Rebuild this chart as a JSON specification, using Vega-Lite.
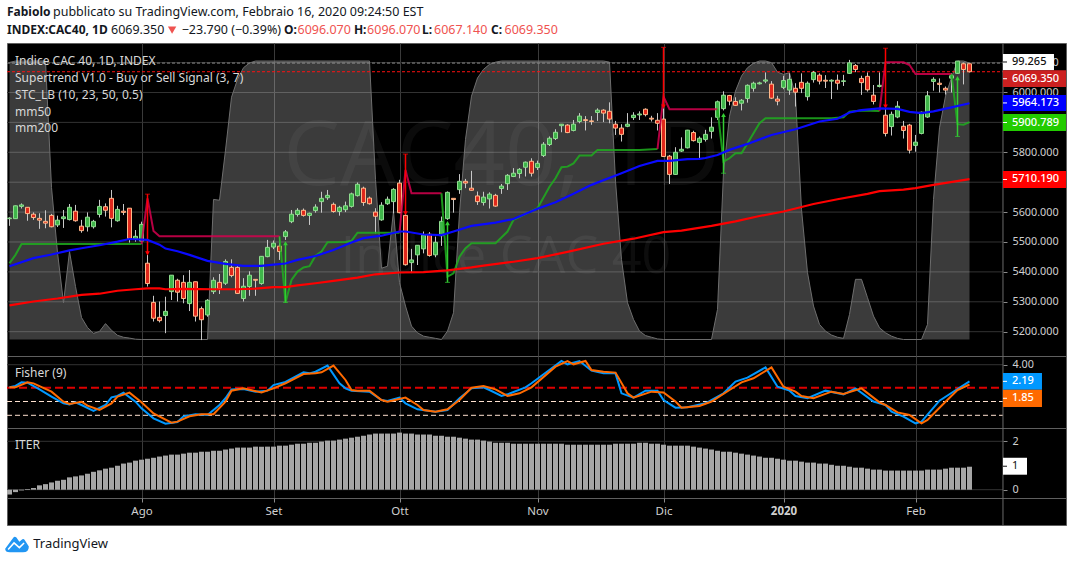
{
"$schema":"https://vega.github.io/schema/vega-lite/v6.json",
"background":"#ffffff",
"padding":{"left":4,"right":7,"top":0,"bottom":0},
"autosize":{"type":"pad"},
"spacing":0,
"bounds":"flush",
"resolve":{"scale":{"fill":"independent","color":"independent","stroke":"independent","shape":"independent"}},
"config":{"view":{"stroke":null},"text":{"font":"Noto Sans"},"axis":{"labelFont":"Noto Sans"}},
"datasets":{
"bars":[
{"i":0,"o":5578,"h":5583,"l":5554,"c":5580,"d":"u","it":-0.2},
{"i":1,"o":5578,"h":5622,"l":5578,"c":5621,"d":"u","it":-0.1},
{"i":2,"o":5619,"h":5629,"l":5612,"c":5624,"d":"u","it":-0.03},
{"i":3,"o":5616,"h":5616,"l":5571,"c":5595,"d":"d","it":0.03},
{"i":4,"o":5593,"h":5599,"l":5574,"c":5582,"d":"d","it":0.07},
{"i":5,"o":5579,"h":5596,"l":5544,"c":5573,"d":"d","it":0.18},
{"i":6,"o":5569,"h":5606,"l":5546,"c":5563,"d":"d","it":0.23},
{"i":7,"o":5589,"h":5594,"l":5549,"c":5551,"d":"d","it":0.3},
{"i":8,"o":5557,"h":5588,"l":5550,"c":5573,"d":"u","it":0.37},
{"i":9,"o":5578,"h":5607,"l":5547,"c":5584,"d":"u","it":0.41},
{"i":10,"o":5575,"h":5627,"l":5572,"c":5616,"d":"u","it":0.51},
{"i":11,"o":5603,"h":5624,"l":5568,"c":5571,"d":"d","it":0.55},
{"i":12,"o":5553,"h":5574,"l":5531,"c":5538,"d":"d","it":0.59},
{"i":13,"o":5551,"h":5599,"l":5535,"c":5583,"d":"u","it":0.66},
{"i":14,"o":5551,"h":5574,"l":5545,"c":5569,"d":"u","it":0.74},
{"i":15,"o":5592,"h":5641,"l":5582,"c":5619,"d":"u","it":0.8},
{"i":16,"o":5618,"h":5629,"l":5585,"c":5606,"d":"d","it":0.87},
{"i":17,"o":5646,"h":5674,"l":5549,"c":5579,"d":"d","it":0.91},
{"i":18,"o":5571,"h":5621,"l":5568,"c":5609,"d":"u","it":0.99},
{"i":19,"o":5603,"h":5627,"l":5590,"c":5599,"d":"d","it":1.08},
{"i":20,"o":5613,"h":5613,"l":5498,"c":5512,"d":"d","it":1.12},
{"i":21,"o":5511,"h":5540,"l":5501,"c":5519,"d":"u","it":1.2},
{"i":22,"o":5503,"h":5568,"l":5500,"c":5559,"d":"u","it":1.24},
{"i":23,"o":5429,"h":5457,"l":5351,"c":5361,"d":"d","it":1.28},
{"i":24,"o":5298,"h":5320,"l":5234,"c":5245,"d":"d","it":1.32},
{"i":25,"o":5248,"h":5301,"l":5231,"c":5237,"d":"d","it":1.37},
{"i":26,"o":5254,"h":5317,"l":5195,"c":5268,"d":"u","it":1.41},
{"i":27,"o":5334,"h":5389,"l":5306,"c":5389,"d":"u","it":1.45},
{"i":28,"o":5372,"h":5377,"l":5301,"c":5332,"d":"d","it":1.45},
{"i":29,"o":5365,"h":5389,"l":5295,"c":5311,"d":"d","it":1.49},
{"i":30,"o":5294,"h":5406,"l":5269,"c":5365,"d":"u","it":1.53},
{"i":31,"o":5367,"h":5367,"l":5234,"c":5252,"d":"d","it":1.53},
{"i":32,"o":5277,"h":5284,"l":5172,"c":5240,"d":"d","it":1.57},
{"i":33,"o":5256,"h":5309,"l":5250,"c":5305,"d":"u","it":1.57},
{"i":34,"o":5334,"h":5382,"l":5326,"c":5372,"d":"u","it":1.61},
{"i":35,"o":5365,"h":5393,"l":5326,"c":5344,"d":"d","it":1.61},
{"i":36,"o":5362,"h":5442,"l":5356,"c":5435,"d":"u","it":1.66},
{"i":37,"o":5415,"h":5442,"l":5382,"c":5388,"d":"d","it":1.7},
{"i":38,"o":5415,"h":5423,"l":5326,"c":5328,"d":"d","it":1.74},
{"i":39,"o":5311,"h":5379,"l":5301,"c":5352,"d":"u","it":1.74},
{"i":40,"o":5351,"h":5402,"l":5320,"c":5389,"d":"u","it":1.74},
{"i":41,"o":5375,"h":5375,"l":5320,"c":5372,"d":"d","it":1.78},
{"i":42,"o":5361,"h":5453,"l":5357,"c":5452,"d":"u","it":1.78},
{"i":43,"o":5451,"h":5507,"l":5449,"c":5482,"d":"u","it":1.78},
{"i":44,"o":5483,"h":5505,"l":5476,"c":5496,"d":"u","it":1.78},
{"i":45,"o":5486,"h":5518,"l":5440,"c":5468,"d":"d","it":1.82},
{"i":46,"o":5518,"h":5540,"l":5507,"c":5534,"d":"u","it":1.82},
{"i":47,"o":5568,"h":5607,"l":5563,"c":5593,"d":"u","it":1.86},
{"i":48,"o":5592,"h":5613,"l":5585,"c":5606,"d":"u","it":1.9},
{"i":49,"o":5606,"h":5612,"l":5585,"c":5589,"d":"d","it":1.9},
{"i":50,"o":5589,"h":5598,"l":5557,"c":5596,"d":"u","it":1.94},
{"i":51,"o":5605,"h":5626,"l":5598,"c":5617,"d":"u","it":1.94},
{"i":52,"o":5635,"h":5668,"l":5598,"c":5646,"d":"u","it":1.99},
{"i":53,"o":5648,"h":5674,"l":5641,"c":5656,"d":"u","it":2.03},
{"i":54,"o":5626,"h":5632,"l":5598,"c":5602,"d":"d","it":2.03},
{"i":55,"o":5602,"h":5621,"l":5588,"c":5616,"d":"u","it":2.07},
{"i":56,"o":5608,"h":5635,"l":5600,"c":5621,"d":"u","it":2.11},
{"i":57,"o":5619,"h":5665,"l":5615,"c":5661,"d":"u","it":2.15},
{"i":58,"o":5655,"h":5699,"l":5652,"c":5693,"d":"u","it":2.19},
{"i":59,"o":5680,"h":5685,"l":5621,"c":5632,"d":"d","it":2.23},
{"i":60,"o":5647,"h":5652,"l":5625,"c":5628,"d":"d","it":2.28},
{"i":61,"o":5600,"h":5613,"l":5529,"c":5586,"d":"d","it":2.32},
{"i":62,"o":5574,"h":5633,"l":5571,"c":5623,"d":"u","it":2.32},
{"i":63,"o":5628,"h":5652,"l":5624,"c":5643,"d":"u","it":2.32},
{"i":64,"o":5635,"h":5680,"l":5596,"c":5676,"d":"u","it":2.32},
{"i":65,"o":5697,"h":5708,"l":5596,"c":5598,"d":"d","it":2.36},
{"i":66,"o":5589,"h":5607,"l":5421,"c":5424,"d":"d","it":2.32},
{"i":67,"o":5431,"h":5477,"l":5396,"c":5440,"d":"u","it":2.32},
{"i":68,"o":5457,"h":5489,"l":5423,"c":5489,"d":"u","it":2.28},
{"i":69,"o":5477,"h":5535,"l":5462,"c":5523,"d":"u","it":2.28},
{"i":70,"o":5526,"h":5533,"l":5451,"c":5455,"d":"d","it":2.28},
{"i":71,"o":5457,"h":5518,"l":5449,"c":5499,"d":"u","it":2.23},
{"i":72,"o":5521,"h":5585,"l":5487,"c":5569,"d":"u","it":2.23},
{"i":73,"o":5578,"h":5669,"l":5574,"c":5666,"d":"u","it":2.19},
{"i":74,"o":5646,"h":5646,"l":5598,"c":5642,"d":"d","it":2.19},
{"i":75,"o":5675,"h":5727,"l":5661,"c":5703,"d":"u","it":2.15},
{"i":76,"o":5703,"h":5711,"l":5680,"c":5697,"d":"d","it":2.11},
{"i":77,"o":5680,"h":5738,"l":5672,"c":5673,"d":"d","it":2.07},
{"i":78,"o":5654,"h":5669,"l":5624,"c":5635,"d":"d","it":2.07},
{"i":79,"o":5632,"h":5668,"l":5622,"c":5650,"d":"u","it":2.03},
{"i":80,"o":5644,"h":5666,"l":5612,"c":5660,"d":"u","it":1.99},
{"i":81,"o":5656,"h":5661,"l":5618,"c":5620,"d":"d","it":1.94},
{"i":82,"o":5679,"h":5694,"l":5661,"c":5687,"d":"u","it":1.94},
{"i":83,"o":5695,"h":5727,"l":5674,"c":5723,"d":"u","it":1.94},
{"i":84,"o":5719,"h":5747,"l":5717,"c":5730,"d":"u","it":1.9},
{"i":85,"o":5729,"h":5747,"l":5713,"c":5743,"d":"u","it":1.9},
{"i":86,"o":5750,"h":5769,"l":5719,"c":5767,"d":"u","it":1.9},
{"i":87,"o":5770,"h":5780,"l":5719,"c":5730,"d":"d","it":1.9},
{"i":88,"o":5749,"h":5772,"l":5741,"c":5763,"d":"u","it":1.9},
{"i":89,"o":5789,"h":5834,"l":5784,"c":5827,"d":"u","it":1.9},
{"i":90,"o":5826,"h":5853,"l":5821,"c":5847,"d":"u","it":1.9},
{"i":91,"o":5846,"h":5877,"l":5841,"c":5867,"d":"u","it":1.9},
{"i":92,"o":5889,"h":5894,"l":5867,"c":5894,"d":"u","it":1.9},
{"i":93,"o":5891,"h":5894,"l":5864,"c":5866,"d":"d","it":1.86},
{"i":94,"o":5873,"h":5908,"l":5870,"c":5894,"d":"u","it":1.86},
{"i":95,"o":5903,"h":5931,"l":5897,"c":5921,"d":"u","it":1.86},
{"i":96,"o":5909,"h":5921,"l":5873,"c":5906,"d":"d","it":1.86},
{"i":97,"o":5905,"h":5921,"l":5892,"c":5903,"d":"d","it":1.86},
{"i":98,"o":5933,"h":5947,"l":5905,"c":5941,"d":"u","it":1.86},
{"i":99,"o":5941,"h":5944,"l":5901,"c":5931,"d":"d","it":1.86},
{"i":100,"o":5937,"h":5967,"l":5897,"c":5911,"d":"d","it":1.86},
{"i":101,"o":5894,"h":5905,"l":5858,"c":5881,"d":"d","it":1.9},
{"i":102,"o":5881,"h":5894,"l":5836,"c":5860,"d":"d","it":1.9},
{"i":103,"o":5887,"h":5931,"l":5884,"c":5894,"d":"u","it":1.9},
{"i":104,"o":5916,"h":5934,"l":5908,"c":5924,"d":"u","it":1.9},
{"i":105,"o":5925,"h":5937,"l":5908,"c":5928,"d":"u","it":1.94},
{"i":106,"o":5944,"h":5947,"l":5920,"c":5926,"d":"d","it":1.94},
{"i":107,"o":5914,"h":5922,"l":5903,"c":5911,"d":"d","it":1.9},
{"i":108,"o":5907,"h":5931,"l":5873,"c":5897,"d":"d","it":1.9},
{"i":109,"o":5911,"h":5947,"l":5784,"c":5786,"d":"d","it":1.86},
{"i":110,"o":5787,"h":5791,"l":5694,"c":5726,"d":"d","it":1.82},
{"i":111,"o":5726,"h":5817,"l":5724,"c":5800,"d":"u","it":1.82},
{"i":112,"o":5804,"h":5850,"l":5801,"c":5810,"d":"u","it":1.82},
{"i":113,"o":5815,"h":5875,"l":5813,"c":5874,"d":"u","it":1.82},
{"i":114,"o":5866,"h":5872,"l":5836,"c":5839,"d":"d","it":1.78},
{"i":115,"o":5833,"h":5853,"l":5775,"c":5847,"d":"u","it":1.74},
{"i":116,"o":5843,"h":5875,"l":5836,"c":5860,"d":"u","it":1.7},
{"i":117,"o":5870,"h":5917,"l":5846,"c":5884,"d":"u","it":1.66},
{"i":118,"o":5917,"h":5973,"l":5908,"c":5969,"d":"u","it":1.61},
{"i":119,"o":5946,"h":6004,"l":5940,"c":5991,"d":"u","it":1.57},
{"i":120,"o":5990,"h":5992,"l":5957,"c":5971,"d":"d","it":1.57},
{"i":121,"o":5970,"h":5984,"l":5955,"c":5957,"d":"d","it":1.53},
{"i":122,"o":5964,"h":5978,"l":5940,"c":5974,"d":"u","it":1.49},
{"i":123,"o":5980,"h":6027,"l":5966,"c":6024,"d":"u","it":1.45},
{"i":124,"o":6014,"h":6036,"l":6003,"c":6031,"d":"u","it":1.41},
{"i":125,"o":6029,"h":6036,"l":6027,"c":6032,"d":"u","it":1.37},
{"i":126,"o":6038,"h":6067,"l":6031,"c":6042,"d":"u","it":1.32},
{"i":127,"o":6028,"h":6038,"l":5978,"c":5981,"d":"d","it":1.32},
{"i":128,"o":5978,"h":5989,"l":5957,"c":5971,"d":"d","it":1.28},
{"i":129,"o":6017,"h":6056,"l":6011,"c":6040,"d":"u","it":1.24},
{"i":130,"o":6008,"h":6064,"l":5992,"c":6044,"d":"u","it":1.2},
{"i":131,"o":6014,"h":6031,"l":5953,"c":6001,"d":"d","it":1.2},
{"i":132,"o":6034,"h":6064,"l":5998,"c":6014,"d":"d","it":1.16},
{"i":133,"o":5986,"h":6037,"l":5973,"c":6031,"d":"u","it":1.12},
{"i":134,"o":6043,"h":6072,"l":6033,"c":6067,"d":"u","it":1.12},
{"i":135,"o":6058,"h":6064,"l":6027,"c":6038,"d":"d","it":1.08},
{"i":136,"o":6041,"h":6058,"l":6015,"c":6038,"d":"d","it":1.08},
{"i":137,"o":6038,"h":6044,"l":5978,"c":6041,"d":"u","it":1.03},
{"i":138,"o":6041,"h":6060,"l":6009,"c":6031,"d":"d","it":0.99},
{"i":139,"o":6037,"h":6059,"l":6022,"c":6039,"d":"u","it":0.99},
{"i":140,"o":6064,"h":6109,"l":6062,"c":6099,"d":"u","it":0.95},
{"i":141,"o":6090,"h":6095,"l":6068,"c":6077,"d":"d","it":0.91},
{"i":142,"o":6047,"h":6056,"l":5992,"c":6033,"d":"d","it":0.91},
{"i":143,"o":6054,"h":6067,"l":6003,"c":6009,"d":"d","it":0.87},
{"i":144,"o":5991,"h":6025,"l":5960,"c":5970,"d":"d","it":0.83},
{"i":145,"o":6020,"h":6067,"l":6017,"c":6024,"d":"u","it":0.83},
{"i":146,"o":5924,"h":5947,"l":5853,"c":5863,"d":"d","it":0.79},
{"i":147,"o":5886,"h":5936,"l":5856,"c":5927,"d":"u","it":0.79},
{"i":148,"o":5918,"h":5971,"l":5914,"c":5954,"d":"u","it":0.79},
{"i":149,"o":5887,"h":5905,"l":5846,"c":5873,"d":"d","it":0.79},
{"i":150,"o":5891,"h":5895,"l":5796,"c":5807,"d":"d","it":0.79},
{"i":151,"o":5823,"h":5858,"l":5802,"c":5834,"d":"u","it":0.79},
{"i":152,"o":5863,"h":5936,"l":5860,"c":5934,"d":"u","it":0.79},
{"i":153,"o":5918,"h":6005,"l":5915,"c":5989,"d":"u","it":0.83},
{"i":154,"o":6037,"h":6051,"l":6006,"c":6044,"d":"u","it":0.83},
{"i":155,"o":6031,"h":6047,"l":6000,"c":6027,"d":"d","it":0.83},
{"i":156,"o":6014,"h":6020,"l":5993,"c":6008,"d":"d","it":0.87},
{"i":157,"o":6048,"h":6064,"l":6000,"c":6056,"d":"u","it":0.91},
{"i":158,"o":6064,"h":6105,"l":6062,"c":6105,"d":"u","it":0.91},
{"i":159,"o":6096,"h":6100,"l":6027,"c":6077,"d":"d","it":0.91},
{"i":160,"o":6096.07,"h":6096.07,"l":6067.14,"c":6069.35,"d":"d","it":0.95}
],
"mm50":[{"i":0,"v":5419},{"i":4,"v":5446},{"i":7,"v":5458},{"i":10,"v":5472},{"i":12,"v":5479},{"i":15,"v":5489},{"i":18,"v":5501},{"i":20,"v":5510},{"i":23,"v":5507},{"i":25,"v":5491},{"i":26,"v":5478},{"i":28,"v":5469},{"i":30,"v":5457},{"i":33,"v":5437},{"i":36,"v":5427},{"i":39,"v":5420},{"i":42,"v":5420},{"i":44,"v":5424},{"i":46,"v":5428},{"i":48,"v":5440},{"i":51,"v":5453},{"i":54,"v":5473},{"i":57,"v":5498},{"i":59,"v":5513},{"i":62,"v":5521},{"i":65,"v":5535},{"i":66,"v":5535},{"i":69,"v":5525},{"i":72,"v":5523},{"i":74,"v":5535},{"i":77,"v":5554},{"i":81,"v":5565},{"i":84,"v":5577},{"i":88,"v":5611},{"i":91,"v":5633},{"i":94,"v":5661},{"i":97,"v":5691},{"i":102,"v":5730},{"i":105,"v":5754},{"i":106,"v":5760},{"i":108,"v":5771},{"i":110,"v":5771},{"i":113,"v":5777},{"i":115,"v":5778},{"i":116,"v":5781},{"i":118,"v":5791},{"i":120,"v":5808},{"i":123,"v":5828},{"i":127,"v":5858},{"i":131,"v":5877},{"i":135,"v":5903},{"i":138,"v":5912},{"i":140,"v":5933},{"i":142,"v":5941},{"i":145,"v":5947},{"i":148,"v":5945},{"i":150,"v":5935},{"i":152,"v":5931},{"i":154,"v":5937},{"i":157,"v":5950},{"i":160,"v":5964.17}],
"mm200":[{"i":0,"v":5288},{"i":4,"v":5301},{"i":8,"v":5311},{"i":12,"v":5323},{"i":15,"v":5327},{"i":18,"v":5337},{"i":21,"v":5342},{"i":23,"v":5345},{"i":25,"v":5345},{"i":26,"v":5342},{"i":29,"v":5343},{"i":34,"v":5342},{"i":38,"v":5342},{"i":41,"v":5344},{"i":44,"v":5349},{"i":46,"v":5349},{"i":48,"v":5355},{"i":51,"v":5362},{"i":54,"v":5370},{"i":58,"v":5381},{"i":61,"v":5392},{"i":65,"v":5398},{"i":69,"v":5399},{"i":73,"v":5405},{"i":77,"v":5415},{"i":79,"v":5421},{"i":84,"v":5434},{"i":88,"v":5446},{"i":93,"v":5467},{"i":99,"v":5494},{"i":104,"v":5511},{"i":109,"v":5533},{"i":112,"v":5538},{"i":117,"v":5554},{"i":121,"v":5569},{"i":125,"v":5587},{"i":129,"v":5602},{"i":134,"v":5627},{"i":138,"v":5643},{"i":143,"v":5661},{"i":145,"v":5670},{"i":149,"v":5675},{"i":151,"v":5680},{"i":154,"v":5691},{"i":160,"v":5710.19}],
"supertrend":[
{"seg":1,"k":"up","i":0,"v":5429},{"seg":1,"k":"up","i":1,"v":5457},{"seg":1,"k":"up","i":2,"v":5493},{"seg":1,"k":"up","i":22,"v":5493},
{"seg":2,"k":"down","i":22,"v":5493},{"seg":2,"k":"down","i":23,"v":5646},{"seg":2,"k":"down","i":24,"v":5537},{"seg":2,"k":"down","i":25,"v":5519},{"seg":2,"k":"down","i":45,"v":5519},
{"seg":3,"k":"up","i":45,"v":5519},{"seg":3,"k":"up","i":46,"v":5298},{"seg":3,"k":"up","i":47,"v":5373},{"seg":3,"k":"up","i":48,"v":5401},{"seg":3,"k":"up","i":49,"v":5415},{"seg":3,"k":"up","i":50,"v":5419},{"seg":3,"k":"up","i":51,"v":5454},{"seg":3,"k":"up","i":52,"v":5468},{"seg":3,"k":"up","i":53,"v":5499},{"seg":3,"k":"up","i":56,"v":5500},{"seg":3,"k":"up","i":57,"v":5504},{"seg":3,"k":"up","i":58,"v":5531},{"seg":3,"k":"up","i":65,"v":5531},
{"seg":4,"k":"down","i":65,"v":5531},{"seg":4,"k":"down","i":66,"v":5741},{"seg":4,"k":"down","i":67,"v":5663},{"seg":4,"k":"down","i":72,"v":5663},
{"seg":5,"k":"up","i":72,"v":5663},{"seg":5,"k":"up","i":73,"v":5384},{"seg":5,"k":"up","i":74,"v":5395},{"seg":5,"k":"up","i":75,"v":5451},{"seg":5,"k":"up","i":76,"v":5479},{"seg":5,"k":"up","i":77,"v":5496},{"seg":5,"k":"up","i":81,"v":5496},{"seg":5,"k":"up","i":83,"v":5535},{"seg":5,"k":"up","i":84,"v":5574},{"seg":5,"k":"up","i":88,"v":5613},{"seg":5,"k":"up","i":90,"v":5685},{"seg":5,"k":"up","i":91,"v":5713},{"seg":5,"k":"up","i":92,"v":5750},{"seg":5,"k":"up","i":93,"v":5752},{"seg":5,"k":"up","i":94,"v":5763},{"seg":5,"k":"up","i":95,"v":5789},{"seg":5,"k":"up","i":97,"v":5789},{"seg":5,"k":"up","i":98,"v":5808},{"seg":5,"k":"up","i":105,"v":5808},{"seg":5,"k":"up","i":108,"v":5811},
{"seg":6,"k":"down","i":108,"v":5811},{"seg":6,"k":"down","i":109,"v":5986},{"seg":6,"k":"down","i":110,"v":5944},{"seg":6,"k":"down","i":118,"v":5944},
{"seg":7,"k":"up","i":118,"v":5944},{"seg":7,"k":"up","i":119,"v":5769},{"seg":7,"k":"up","i":120,"v":5780},{"seg":7,"k":"up","i":121,"v":5797},{"seg":7,"k":"up","i":122,"v":5797},{"seg":7,"k":"up","i":124,"v":5864},{"seg":7,"k":"up","i":125,"v":5897},{"seg":7,"k":"up","i":126,"v":5914},{"seg":7,"k":"up","i":137,"v":5914},{"seg":7,"k":"up","i":139,"v":5917},{"seg":7,"k":"up","i":140,"v":5936},{"seg":7,"k":"up","i":142,"v":5940},{"seg":7,"k":"up","i":145,"v":5938},
{"seg":8,"k":"down","i":145,"v":5938},{"seg":8,"k":"down","i":146,"v":6101},{"seg":8,"k":"down","i":149,"v":6101},{"seg":8,"k":"down","i":150,"v":6092},{"seg":8,"k":"down","i":151,"v":6062},{"seg":8,"k":"down","i":157,"v":6062},
{"seg":9,"k":"up","i":157,"v":6062},{"seg":9,"k":"up","i":158,"v":5894},{"seg":9,"k":"up","i":159,"v":5892},{"seg":9,"k":"up","i":160,"v":5900.79}
],
"arrows":[
{"i":23,"k":"sell","head":5462,"cap":5660},{"i":66,"k":"sell","head":5596,"cap":5794},{"i":109,"k":"sell","head":5953,"cap":6151},{"i":146,"k":"sell","head":5953,"cap":6148},
{"i":46,"k":"buy","head":5496,"cap":5298},{"i":73,"k":"buy","head":5563,"cap":5365},{"i":119,"k":"buy","head":5925,"cap":5730},{"i":158,"k":"buy","head":6048,"cap":5853}
],
"stc":[{"i":0,"s":99.5},{"i":1,"s":100},{"i":6,"s":100},{"i":7,"s":54.6},{"i":8,"s":31.2},{"i":9,"s":13.2},{"i":10,"s":31.6},{"i":11,"s":19},{"i":12,"s":7.9},{"i":13,"s":4.3},{"i":14,"s":2.2},{"i":15,"s":2.9},{"i":16,"s":5.7},{"i":17,"s":3.3},{"i":18,"s":1.5},{"i":19,"s":0.8},{"i":20,"s":0.5},{"i":21,"s":0.1},{"i":22,"s":0},{"i":33,"s":0},{"i":34,"s":50.3},{"i":35,"s":50},{"i":36,"s":68},{"i":37,"s":87},{"i":38,"s":93.4},{"i":39,"s":97.6},{"i":40,"s":99.3},{"i":41,"s":100},{"i":60,"s":100},{"i":61,"s":57.5},{"i":62,"s":25.6},{"i":63,"s":26.3},{"i":64,"s":46.1},{"i":65,"s":20.4},{"i":66,"s":12},{"i":67,"s":4.8},{"i":68,"s":2.4},{"i":69,"s":1.2},{"i":70,"s":0.8},{"i":71,"s":0.4},{"i":72,"s":0},{"i":73,"s":3},{"i":74,"s":9.6},{"i":75,"s":45.5},{"i":76,"s":71.9},{"i":77,"s":87.4},{"i":78,"s":93.9},{"i":79,"s":97},{"i":80,"s":98.8},{"i":81,"s":99.6},{"i":82,"s":100},{"i":99,"s":100},{"i":100,"s":99.6},{"i":101,"s":56.9},{"i":102,"s":28.7},{"i":103,"s":13.2},{"i":104,"s":7.2},{"i":105,"s":3},{"i":106,"s":1.4},{"i":107,"s":0.8},{"i":108,"s":0.2},{"i":109,"s":0},{"i":117,"s":0},{"i":118,"s":10.8},{"i":119,"s":59.9},{"i":120,"s":80.2},{"i":121,"s":89.2},{"i":122,"s":94.6},{"i":123,"s":97.6},{"i":124,"s":99.2},{"i":125,"s":100},{"i":126,"s":100},{"i":127,"s":99.4},{"i":128,"s":96},{"i":129,"s":95.2},{"i":130,"s":95.8},{"i":131,"s":87.4},{"i":132,"s":46.7},{"i":133,"s":24},{"i":134,"s":12},{"i":135,"s":5.4},{"i":136,"s":3},{"i":137,"s":1.6},{"i":138,"s":0.8},{"i":139,"s":0.4},{"i":140,"s":9},{"i":141,"s":21.6},{"i":142,"s":21.6},{"i":143,"s":15},{"i":144,"s":8.4},{"i":145,"s":4.2},{"i":146,"s":2.4},{"i":147,"s":1.2},{"i":148,"s":0.4},{"i":149,"s":0},{"i":152,"s":0},{"i":153,"s":5.4},{"i":154,"s":50.3},{"i":155,"s":76},{"i":156,"s":87.4},{"i":157,"s":94},{"i":158,"s":100},{"i":159,"s":100},{"i":160,"s":99.265}],
"fisher":[{"i":0,"v":1.54},{"i":1,"v":1.69},{"i":2,"v":2.08},{"i":3,"v":2.05},{"i":5,"v":1.32},{"i":7,"v":0.53},{"i":9,"v":-0.2},{"i":10,"v":-0.31},{"i":11,"v":-0.09},{"i":12,"v":-0.38},{"i":14,"v":-1.03},{"i":16,"v":-0.38},{"i":17,"v":0.45},{"i":18,"v":0.6},{"i":19,"v":0.96},{"i":21,"v":-0.02},{"i":22,"v":-0.74},{"i":24,"v":-1.83},{"i":26,"v":-2.41},{"i":28,"v":-2.23},{"i":29,"v":-1.61},{"i":31,"v":-1.39},{"i":33,"v":-1.47},{"i":35,"v":-0.38},{"i":36,"v":0.35},{"i":37,"v":1.32},{"i":39,"v":1.36},{"i":41,"v":1.07},{"i":43,"v":1.18},{"i":44,"v":1.79},{"i":46,"v":2.12},{"i":49,"v":3.17},{"i":50,"v":3.06},{"i":51,"v":3.24},{"i":53,"v":3.9},{"i":55,"v":1.97},{"i":56,"v":1.43},{"i":57,"v":1.18},{"i":60,"v":1.07},{"i":62,"v":0.16},{"i":63,"v":0.05},{"i":65,"v":0.42},{"i":66,"v":-0.2},{"i":68,"v":-0.85},{"i":71,"v":-1.1},{"i":73,"v":-0.92},{"i":75,"v":0.35},{"i":77,"v":1.43},{"i":79,"v":1.54},{"i":80,"v":1.25},{"i":82,"v":0.6},{"i":83,"v":0.78},{"i":86,"v":1.54},{"i":87,"v":1.98},{"i":92,"v":4.4},{"i":93,"v":4.04},{"i":95,"v":4.4},{"i":97,"v":3.35},{"i":99,"v":3.06},{"i":101,"v":3.06},{"i":102,"v":0.89},{"i":104,"v":0.42},{"i":106,"v":1.18},{"i":108,"v":1.18},{"i":109,"v":0.16},{"i":111,"v":-0.67},{"i":113,"v":-0.63},{"i":116,"v":-0.2},{"i":119,"v":0.89},{"i":121,"v":2.16},{"i":123,"v":2.59},{"i":126,"v":3.71},{"i":128,"v":1.61},{"i":130,"v":1.18},{"i":131,"v":0.6},{"i":133,"v":0.35},{"i":136,"v":1.18},{"i":139,"v":0.78},{"i":141,"v":1.43},{"i":144,"v":0},{"i":146,"v":-0.38},{"i":147,"v":-1.1},{"i":149,"v":-1.65},{"i":151,"v":-2.37},{"i":152,"v":-2.19},{"i":155,"v":0.09},{"i":158,"v":1.36},{"i":160,"v":2.19}],
"fisherSignal":[{"i":0,"v":1.54},{"i":1,"v":1.54},{"i":3,"v":2.08},{"i":4,"v":1.97},{"i":7,"v":1.07},{"i":9,"v":-0.02},{"i":10,"v":-0.27},{"i":12,"v":-0.02},{"i":13,"v":-0.45},{"i":15,"v":-0.92},{"i":17,"v":-0.2},{"i":18,"v":0.53},{"i":20,"v":0.96},{"i":22,"v":-0.09},{"i":24,"v":-1.29},{"i":27,"v":-2.3},{"i":28,"v":-2.19},{"i":30,"v":-1.61},{"i":32,"v":-1.39},{"i":34,"v":-1.39},{"i":36,"v":-0.02},{"i":37,"v":1.18},{"i":39,"v":1.43},{"i":42,"v":0.98},{"i":44,"v":1.43},{"i":46,"v":1.98},{"i":49,"v":2.99},{"i":51,"v":3.06},{"i":52,"v":3.17},{"i":54,"v":3.9},{"i":56,"v":2.34},{"i":57,"v":1.25},{"i":58,"v":1.18},{"i":60,"v":1.18},{"i":62,"v":0.16},{"i":63,"v":-0.02},{"i":66,"v":0.42},{"i":68,"v":-0.38},{"i":69,"v":-0.92},{"i":71,"v":-1.1},{"i":73,"v":-0.85},{"i":75,"v":0.16},{"i":77,"v":1.5},{"i":79,"v":1.69},{"i":81,"v":1.32},{"i":83,"v":0.6},{"i":85,"v":0.89},{"i":87,"v":1.54},{"i":91,"v":3.79},{"i":93,"v":4.4},{"i":94,"v":4.04},{"i":96,"v":4.4},{"i":97,"v":3.42},{"i":99,"v":3.24},{"i":101,"v":3.14},{"i":103,"v":0.89},{"i":104,"v":0.42},{"i":107,"v":1.07},{"i":109,"v":0.98},{"i":111,"v":0},{"i":112,"v":-0.67},{"i":115,"v":-0.49},{"i":117,"v":0},{"i":120,"v":1.25},{"i":122,"v":2.08},{"i":124,"v":2.52},{"i":127,"v":3.71},{"i":129,"v":1.61},{"i":131,"v":1.07},{"i":132,"v":0.6},{"i":134,"v":0.35},{"i":137,"v":1.07},{"i":139,"v":0.82},{"i":142,"v":1.43},{"i":145,"v":-0.09},{"i":146,"v":-0.38},{"i":148,"v":-1.18},{"i":150,"v":-1.47},{"i":152,"v":-2.37},{"i":153,"v":-2.01},{"i":156,"v":-0.02},{"i":158,"v":1.25},{"i":160,"v":1.85}],
"priceBadges":[{"name":"STC_LB","label":"99.265","val":6102,"hi":6128.8,"lo":6074.2,"i":165.58,"e":174.08,"tx":167.08,"tk":166.25},{"name":"Close","label":"6069.350","val":6046,"hi":6074.2,"lo":6018.4,"i":165.58,"e":176.08,"tx":167.08,"tk":166.25},{"name":"mm50","label":"5964.173","val":5965,"hi":5991.6,"lo":5938.1,"i":165.58,"e":176.08,"tx":167.08,"tk":166.25},{"name":"Supertrend","label":"5900.789","val":5899.6,"hi":5928.1,"lo":5871.2,"i":165.58,"e":176.08,"tx":167.08,"tk":166.25},{"name":"mm200","label":"5710.190","val":5709,"hi":5737.5,"lo":5680.6,"i":165.58,"e":176.08,"tx":167.08,"tk":166.25}],
"fisherBadges":[{"name":"Fisher","label":"2.19","val":2.19,"hi":3.1,"lo":1.28,"i":165.58,"e":172.08,"tx":167.08,"tk":166.25},{"name":"Signal","label":"1.85","val":0.35,"hi":1.28,"lo":-0.6,"i":165.58,"e":172.08,"tx":167.08,"tk":166.25}],
"iterBadges":[{"name":"ITER","label":"1","val":0.97,"hi":1.32,"lo":0.62,"i":165.58,"e":169.58,"tx":167.08,"tk":166.25}]
},
"vconcat":[
{
"width":1059,"height":43,
"encoding":{"x":{"field":"x","type":"quantitative","scale":{"domain":[-0.4167,176.0833],"nice":false,"zero":false,"padding":0},"axis":null},"y":{"field":"row","type":"quantitative","scale":{"domain":[2.72,0.333],"nice":false,"zero":false},"axis":null},"text":{"field":"t"}},
"layer":[
{"data":{"values":[{"t":"pubblicato su TradingView.com, Febbraio 16, 2020 09:24:50 EST","x":7.25,"row":1},{"t":"6069.350","x":16.92,"row":2},{"t":"−23.790 (−0.39%)","x":28.7,"row":2}]},"mark":{"type":"text","align":"left","baseline":"middle","fontSize":12.5,"color":"#131722"}},
{"data":{"values":[{"t":"Fabiolo","x":-0.417,"row":1},{"t":"INDEX:CAC40, 1D","x":-0.417,"row":2},{"t":"O:","x":45.75,"row":2},{"t":"H:","x":57.4,"row":2},{"t":"L:","x":68.75,"row":2},{"t":"C:","x":80.25,"row":2}]},"mark":{"type":"text","align":"left","baseline":"middle","fontSize":12,"fontWeight":"bold","color":"#131722"}},
{"data":{"values":[{"t":"6096.070","x":48,"row":2},{"t":"6096.070","x":59.6,"row":2},{"t":"6067.140","x":70.75,"row":2},{"t":"6069.350","x":82.5,"row":2}]},"mark":{"type":"text","align":"left","baseline":"middle","fontSize":12.5,"color":"#ef5350"}},
{"data":{"values":[{"t":"","x":27.1,"row":2}]},"mark":{"type":"point","shape":"triangle-down","filled":true,"size":70,"color":"#ef5350","opacity":1}}
]
},
{
"width":1059,"height":313,
"view":{"fill":"#000000","stroke":"#5f5f5f"},
"resolve":{"scale":{"y":"independent","fill":"independent","stroke":"independent","color":"independent","shape":"independent"}},
"encoding":{"x":{"field":"i","type":"quantitative","scale":{"domain":[-0.4167,176.0833],"nice":false,"zero":false,"padding":0},"axis":{"values":[22,44,65,88,109,129,151],"grid":true,"gridColor":"#3a3a3a","labels":false,"ticks":false,"domain":false,"title":null}}},
"layer":[
{"data":{"values":[{"v":5200,"i":-0.4167,"e":165.58},{"v":5300,"i":-0.4167,"e":165.58},{"v":5400,"i":-0.4167,"e":165.58},{"v":5500,"i":-0.4167,"e":165.58},{"v":5600,"i":-0.4167,"e":165.58},{"v":5700,"i":-0.4167,"e":165.58},{"v":5800,"i":-0.4167,"e":165.58},{"v":5900,"i":-0.4167,"e":165.58},{"v":6000,"i":-0.4167,"e":165.58},{"v":6100,"i":-0.4167,"e":165.58}]},"mark":{"type":"rule","color":"#333333","strokeWidth":1},"encoding":{"x2":{"field":"e"},"y":{"field":"v","type":"quantitative","scale":{"domain":[5118.7,6165.5],"nice":false,"zero":false},"axis":{"orient":"right","offset":-63,"values":[5200,5300,5400,5500,5600,5800,6000,6100],"format":".3f","grid":false,"domain":false,"title":null,"tickColor":"#8a8a8a","tickSize":4,"labelColor":"#d0d0d0","labelFontSize":10.8,"labelPadding":5,"labelFlush":false,"labelOverlap":false}}}},
{"data":{"values":[{"t":"CAC40, 1D","i":82,"p":5781}]},"mark":{"type":"text","fontSize":90,"font":"Open Sans","baseline":"middle","color":"#ffffff","opacity":0.045},"encoding":{"text":{"field":"t"},"y":{"field":"p","type":"quantitative","axis":null,"scale":{"domain":[5118.7,6165.5],"nice":false,"zero":false}}}},
{"data":{"values":[{"t":"Indice CAC 40","i":82.75,"p":5449}]},"mark":{"type":"text","fontSize":52,"font":"Open Sans","baseline":"middle","color":"#ffffff","opacity":0.05},"encoding":{"text":{"field":"t"},"y":{"field":"p","type":"quantitative","axis":null,"scale":{"domain":[5118.7,6165.5],"nice":false,"zero":false}}}},
{"data":{"name":"stc"},"mark":{"type":"area","color":"#ffffff","opacity":0.23},"encoding":{"y":{"field":"s","type":"quantitative","axis":null,"scale":{"domain":[-5.93,106.47],"nice":false,"zero":false}},"y2":{"datum":0}}},
{"data":{"name":"stc"},"mark":{"type":"line","color":"#6e6e6e","strokeWidth":1},"encoding":{"y":{"field":"s","type":"quantitative","axis":null,"scale":{"domain":[-5.93,106.47],"nice":false,"zero":false}}}},
{"data":{"values":[{"v":99.265,"i":-0.4167,"e":165.58}]},"mark":{"type":"rule","color":"#8a8a8a","strokeWidth":1,"strokeDash":[3,2]},"encoding":{"x2":{"field":"e"},"y":{"field":"v","type":"quantitative","axis":null,"scale":{"domain":[-5.93,106.47],"nice":false,"zero":false}}}},
{"data":{"values":[{"v":6069.35,"i":-0.4167,"e":165.58}]},"mark":{"type":"rule","color":"#ff1010","strokeWidth":1,"strokeDash":[3,2]},"encoding":{"x2":{"field":"e"},"y":{"field":"v","type":"quantitative","axis":null,"scale":{"domain":[5118.7,6165.5],"nice":false,"zero":false}}}},
{"data":{"name":"bars"},"mark":{"type":"rule","color":"#c8c8c8","strokeWidth":1},"encoding":{"y":{"field":"l","type":"quantitative","axis":null,"scale":{"domain":[5118.7,6165.5],"nice":false,"zero":false}},"y2":{"field":"h"}}},
{"data":{"name":"bars"},"mark":{"type":"bar","size":4,"strokeWidth":1},"encoding":{"y":{"field":"o","type":"quantitative","axis":null,"scale":{"domain":[5118.7,6165.5],"nice":false,"zero":false}},"y2":{"field":"c"},"fill":{"field":"d","type":"nominal","legend":null,"scale":{"domain":["u","d"],"range":["#3fb54a","#e0281c"]}},"stroke":{"field":"d","type":"nominal","legend":null,"scale":{"domain":["u","d"],"range":["#8fdc8f","#ffb98a"]}}}},
{"data":{"name":"supertrend"},"mark":{"type":"line","strokeWidth":2,"opacity":0.85},"encoding":{"y":{"field":"v","type":"quantitative","axis":null,"scale":{"domain":[5118.7,6165.5],"nice":false,"zero":false}},"detail":{"field":"seg"},"color":{"field":"k","type":"nominal","legend":null,"scale":{"domain":["up","down"],"range":["#1fae1f","#d6004f"]}}}},
{"data":{"name":"arrows"},"mark":{"type":"rule","strokeWidth":1.5},"encoding":{"y":{"field":"head","type":"quantitative","axis":null,"scale":{"domain":[5118.7,6165.5],"nice":false,"zero":false}},"y2":{"field":"cap"},"color":{"field":"k","type":"nominal","legend":null,"scale":{"domain":["buy","sell"],"range":["#33cc33","#ff0000"]}}}},
{"data":{"name":"arrows"},"mark":{"type":"tick","orient":"horizontal","size":5,"thickness":1},"encoding":{"y":{"field":"cap","type":"quantitative","axis":null,"scale":{"domain":[5118.7,6165.5],"nice":false,"zero":false}},"color":{"field":"k","type":"nominal","legend":null,"scale":{"domain":["buy","sell"],"range":["#33cc33","#ff0000"]}}}},
{"data":{"name":"arrows"},"mark":{"type":"point","filled":true,"size":22,"opacity":1},"encoding":{"y":{"field":"head","type":"quantitative","axis":null,"scale":{"domain":[5118.7,6165.5],"nice":false,"zero":false}},"shape":{"field":"k","type":"nominal","legend":null,"scale":{"domain":["buy","sell"],"range":["triangle-up","triangle-down"]}},"color":{"field":"k","type":"nominal","legend":null,"scale":{"domain":["buy","sell"],"range":["#33cc33","#ff0000"]}}}},
{"data":{"name":"mm50"},"mark":{"type":"line","color":"#0a0aff","strokeWidth":2.2},"encoding":{"y":{"field":"v","type":"quantitative","axis":null,"scale":{"domain":[5118.7,6165.5],"nice":false,"zero":false}}}},
{"data":{"name":"mm200"},"mark":{"type":"line","color":"#ff0000","strokeWidth":2.2},"encoding":{"y":{"field":"v","type":"quantitative","axis":null,"scale":{"domain":[5118.7,6165.5],"nice":false,"zero":false}}}},
{"data":{"values":[{"t":"Indice CAC 40, 1D, INDEX","i":0.917,"p":6105},{"t":"Supertrend V1.0 - Buy or Sell Signal (3, 7)","i":0.917,"p":6048},{"t":"STC_LB (10, 23, 50, 0.5)","i":0.917,"p":5992},{"t":"mm50","i":0.917,"p":5935},{"t":"mm200","i":0.917,"p":5881}]},"mark":{"type":"text","align":"left","baseline":"middle","fontSize":12,"color":"#d8d8d8"},"encoding":{"text":{"field":"t"},"y":{"field":"p","type":"quantitative","axis":null,"scale":{"domain":[5118.7,6165.5],"nice":false,"zero":false}}}},
{"mark":{"type":"rule","color":"#6a6a6a","strokeWidth":1},"data":{"values":[{"i":165.58}]},"encoding":{}},
{"data":{"name":"priceBadges"},"mark":{"type":"rect"},"encoding":{"x2":{"field":"e"},"y":{"field":"lo","type":"quantitative","axis":null,"scale":{"domain":[5118.7,6165.5],"nice":false,"zero":false}},"y2":{"field":"hi"},"fill":{"field":"name","type":"nominal","legend":null,"scale":{"domain":["STC_LB","Close","mm50","Supertrend","mm200"],"range":["#ffffff","#cc2020","#0000ff","#22cc00","#ff0000"]}}}},
{"data":{"name":"priceBadges"},"mark":{"type":"rule","strokeWidth":1},"encoding":{"x2":{"field":"tk"},"y":{"field":"val","type":"quantitative","axis":null,"scale":{"domain":[5118.7,6165.5],"nice":false,"zero":false}},"color":{"field":"name","type":"nominal","legend":null,"scale":{"domain":["STC_LB","Close","mm50","Supertrend","mm200"],"range":["#111111","#ffffff","#ffffff","#ffffff","#ffffff"]}}}},
{"data":{"name":"priceBadges"},"mark":{"type":"text","align":"left","baseline":"middle","fontSize":11,"fontWeight":500},"encoding":{"x":{"field":"tx","type":"quantitative"},"text":{"field":"label"},"y":{"field":"val","type":"quantitative","axis":null,"scale":{"domain":[5118.7,6165.5],"nice":false,"zero":false}},"color":{"field":"name","type":"nominal","legend":null,"scale":{"domain":["STC_LB","Close","mm50","Supertrend","mm200"],"range":["#111111","#ffffff","#ffffff","#ffffff","#ffffff"]}}}}
]
},
{
"width":1059,"height":72,
"view":{"fill":"#000000","stroke":"#5f5f5f"},
"encoding":{"x":{"field":"i","type":"quantitative","scale":{"domain":[-0.4167,176.0833],"nice":false,"zero":false,"padding":0},"axis":{"values":[22,44,65,88,109,129,151],"grid":true,"gridColor":"#3a3a3a","labels":false,"ticks":false,"domain":false,"title":null}},"y":{"field":"v","type":"quantitative","scale":{"domain":[-2.88,4.946],"nice":false,"zero":false},"axis":{"orient":"right","offset":-63,"values":[4],"format":".2f","grid":false,"domain":false,"title":null,"tickColor":"#8a8a8a","tickSize":4,"labelColor":"#d0d0d0","labelFontSize":10.8,"labelPadding":5,"labelFlush":false}}},
"layer":[
{"data":{"values":[{"v":4,"i":-0.4167,"e":165.58}]},"mark":{"type":"rule","color":"#333333"},"encoding":{"x2":{"field":"e"}}},
{"data":{"values":[{"v":0,"i":-0.4167,"e":165.58},{"v":-1.5,"i":-0.4167,"e":165.58}]},"mark":{"type":"rule","color":"#ffe2d0","strokeWidth":1,"strokeDash":[5,3]},"encoding":{"x2":{"field":"e"}}},
{"data":{"values":[{"v":1.5,"i":-0.4167,"e":165.58}]},"mark":{"type":"rule","color":"#dd0000","strokeWidth":2,"strokeDash":[8,4]},"encoding":{"x2":{"field":"e"}}},
{"data":{"name":"fisher"},"mark":{"type":"line","color":"#0098ff","strokeWidth":2}},
{"data":{"name":"fisherSignal"},"mark":{"type":"line","color":"#ff6a00","strokeWidth":2}},
{"data":{"values":[{"t":"Fisher (9)","i":0.917,"v":3.1}]},"mark":{"type":"text","align":"left","baseline":"middle","fontSize":12,"color":"#d8d8d8"},"encoding":{"text":{"field":"t"}}},
{"mark":{"type":"rule","color":"#6a6a6a","strokeWidth":1},"data":{"values":[{"i":165.58}]},"encoding":{"y":null}},
{"data":{"name":"fisherBadges"},"mark":{"type":"rect"},"encoding":{"x2":{"field":"e"},"y":{"field":"lo","type":"quantitative"},"y2":{"field":"hi"},"fill":{"field":"name","type":"nominal","legend":null,"scale":{"domain":["Fisher","Signal"],"range":["#0098ff","#ff6a00"]}}}},
{"data":{"name":"fisherBadges"},"mark":{"type":"rule","strokeWidth":1,"color":"#ffffff"},"encoding":{"x2":{"field":"tk"},"y":{"field":"val","type":"quantitative"}}},
{"data":{"name":"fisherBadges"},"mark":{"type":"text","align":"left","baseline":"middle","fontSize":11,"fontWeight":500,"color":"#ffffff"},"encoding":{"x":{"field":"tx","type":"quantitative"},"text":{"field":"label"},"y":{"field":"val","type":"quantitative"}}}
]
},
{
"width":1059,"height":70,
"view":{"fill":"#000000","stroke":"#5f5f5f"},
"encoding":{"x":{"field":"i","type":"quantitative","scale":{"domain":[-0.4167,176.0833],"nice":false,"zero":false,"padding":0},"axis":{"values":[22,44,65,88,109,129,151],"grid":true,"gridColor":"#3a3a3a","labels":false,"ticks":false,"domain":false,"title":null}}},
"layer":[
{"data":{"values":[{"v":0,"i":-0.4167,"e":165.58},{"v":2,"i":-0.4167,"e":165.58}]},"mark":{"type":"rule","color":"#333333"},"encoding":{"x2":{"field":"e"},"y":{"field":"v","type":"quantitative","scale":{"domain":[-0.343,2.55],"nice":false,"zero":false},"axis":{"orient":"right","offset":-63,"values":[0,2],"format":"d","grid":false,"domain":false,"title":null,"tickColor":"#8a8a8a","tickSize":4,"labelColor":"#d0d0d0","labelFontSize":10.8,"labelPadding":5,"labelFlush":false}}}},
{"data":{"name":"bars"},"mark":{"type":"bar","size":5,"color":"#a6a6a6"},"encoding":{"y":{"field":"it","type":"quantitative"},"y2":{"datum":0}}},
{"data":{"values":[{"t":"ITER","i":0.917,"v":1.86}]},"mark":{"type":"text","align":"left","baseline":"middle","fontSize":12,"color":"#d8d8d8"},"encoding":{"text":{"field":"t"},"y":{"field":"v","type":"quantitative"}}},
{"mark":{"type":"rule","color":"#6a6a6a","strokeWidth":1},"data":{"values":[{"i":165.58}]},"encoding":{}},
{"data":{"name":"iterBadges"},"mark":{"type":"rect","color":"#ffffff"},"encoding":{"x2":{"field":"e"},"y":{"field":"lo","type":"quantitative"},"y2":{"field":"hi"}}},
{"data":{"name":"iterBadges"},"mark":{"type":"rule","strokeWidth":1,"color":"#111111"},"encoding":{"x2":{"field":"tk"},"y":{"field":"val","type":"quantitative"}}},
{"data":{"name":"iterBadges"},"mark":{"type":"text","align":"left","baseline":"middle","fontSize":11,"color":"#111111"},"encoding":{"x":{"field":"tx","type":"quantitative"},"text":{"field":"label"},"y":{"field":"val","type":"quantitative"}}}
]
},
{
"width":1059,"height":27,
"view":{"fill":"#000000","stroke":"#5f5f5f"},
"data":{"values":[{"edge":165.58}]},
"mark":{"type":"rule","color":"#6a6a6a","strokeWidth":1},
"encoding":{"x":{"field":"edge","type":"quantitative","scale":{"domain":[-0.4167,176.0833],"nice":false,"zero":false},"axis":{"orient":"bottom","offset":-27,"values":[22,44,65,88,109,129,151],"labelExpr":"{22:'Ago',44:'Set',65:'Ott',88:'Nov',109:'Dic',129:'2020',151:'Feb'}[datum.value]","labelColor":"#d0d0d0","labelFontSize":11.5,"labelFontWeight":{"condition":{"test":"datum.value==129","value":"bold"},"value":"normal"},"tickColor":"#8a8a8a","tickSize":4,"labelPadding":3,"domain":false,"grid":false,"title":null,"labelOverlap":false}}}
},
{
"width":1059,"height":37,
"encoding":{"x":{"field":"x","type":"quantitative","scale":{"domain":[-0.4167,176.0833],"nice":false,"zero":false},"axis":null},"y":{"field":"yy","type":"quantitative","scale":{"domain":[1,0],"nice":false,"zero":false},"axis":null}},
"layer":[
{"data":{"values":[{"x":1.25,"yy":0.5}]},"mark":{"type":"point","filled":true,"opacity":1,"size":560,"color":"#2196f3","shape":"M-1,.45 L-.3,-.5 Q-.2,-.65 -.05,-.5 L.2,-.15 L.45,-.35 Q.55,-.45 .65,-.3 L1,.25 Q1,.75 .5,.75 L-.6,.75 Q-1,.75 -1,.45 Z"}},
{"data":{"values":[{"x":1.25,"yy":0.5}]},"mark":{"type":"point","filled":false,"opacity":1,"size":560,"stroke":"#ffffff","strokeWidth":1.5,"shape":"M-.75,.5 L-.25,-.05 L.2,.35 L.6,-.05"}},
{"data":{"values":[{"x":3.95,"yy":0.5,"t":"TradingView"}]},"mark":{"type":"text","align":"left","baseline":"middle","fontSize":13,"color":"#131722"},"encoding":{"text":{"field":"t"}}}
]
}
]
}
